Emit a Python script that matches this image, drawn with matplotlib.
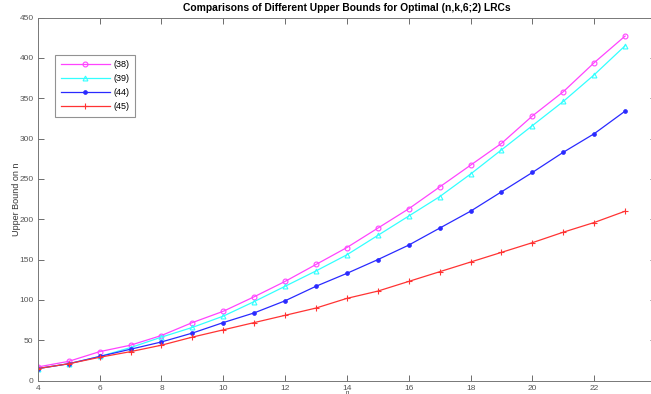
import matplotlib
matplotlib.use("Agg")
import matplotlib.pyplot as plt

plt.rcParams['font.family'] = ['Liberation Sans', 'DejaVu Sans']

n = list(range(4, 24))
b38 = [17, 24, 36, 44, 56, 72, 86, 104, 123, 144, 165, 189, 213, 240, 267, 294, 328, 358, 394, 427]
b39 = [15, 21, 30, 41, 54, 66, 80, 98, 117, 136, 156, 180, 204, 228, 256, 286, 316, 346, 379, 415]
b44 = [15, 21, 30, 39, 48, 59, 72, 84, 99, 117, 133, 150, 168, 189, 210, 234, 258, 283, 306, 334]
b45 = [15, 21, 29, 36, 44, 54, 63, 72, 81, 90, 102, 111, 123, 135, 147, 159, 171, 184, 196, 210]
labels = ["(38)", "(39)", "(44)", "(45)"]
xticks = [4, 6, 8, 10, 12, 14, 16, 18, 20, 22]
yticks = [0, 50, 100, 150, 200, 250, 300, 350, 400, 450]

W, H = 651, 394
fig = plt.figure(figsize=(W / 100, H / 100), dpi=100)
left, right, top, bottom = 37.8, 656.0, 17.5, 380.7
ax = fig.add_axes([left / W, (H - bottom) / H, (right - left) / W, (bottom - top) / H])

ax.plot(n, b38, color='#ff44ff', marker='o', ms=3.5, mfc='none', mew=0.8, lw=0.9, label=labels[0])
ax.plot(n, b39, color='#33ffff', marker='^', ms=3.5, mfc='none', mew=0.8, lw=0.9, label=labels[1])
ax.plot(n, b44, color='#2a2aff', marker='o', ms=2.8, mew=0.5, lw=0.9, label=labels[2])
ax.plot(n, b45, color='#ff3333', marker='+', ms=4.5, mew=0.8, lw=0.9, label=labels[3])

ax.set_xlim(4, 24)
ax.set_ylim(0, 450)
ax.set_xticks(xticks)
ax.set_yticks(yticks)
gray = '#555555'
ax.tick_params(direction='in', top=True, right=True, labelsize=6, colors=gray, length=4, width=0.6, pad=3)
for s in ax.spines.values():
    s.set_color('#777777')
    s.set_linewidth(0.7)

ax.set_title("Comparisons of Different Upper Bounds for Optimal (n,k,6;2) LRCs",
             fontsize=7.4, fontweight='bold', pad=5)
ax.set_ylabel("Upper Bound on n", fontsize=6.5, color='#333333', labelpad=-1)
ax.set_xlabel("n", fontsize=4.5, color='#333333', labelpad=-1)

leg = ax.legend(loc='upper left', bbox_to_anchor=(0.028, 0.897), borderaxespad=0,
                fontsize=6.5, frameon=True, fancybox=False, edgecolor='#777777',
                handlelength=5.5, borderpad=0.6, labelspacing=0.55, handletextpad=0.4)
leg.get_frame().set_linewidth(0.8)

fig.savefig("out.png", dpi=100)
